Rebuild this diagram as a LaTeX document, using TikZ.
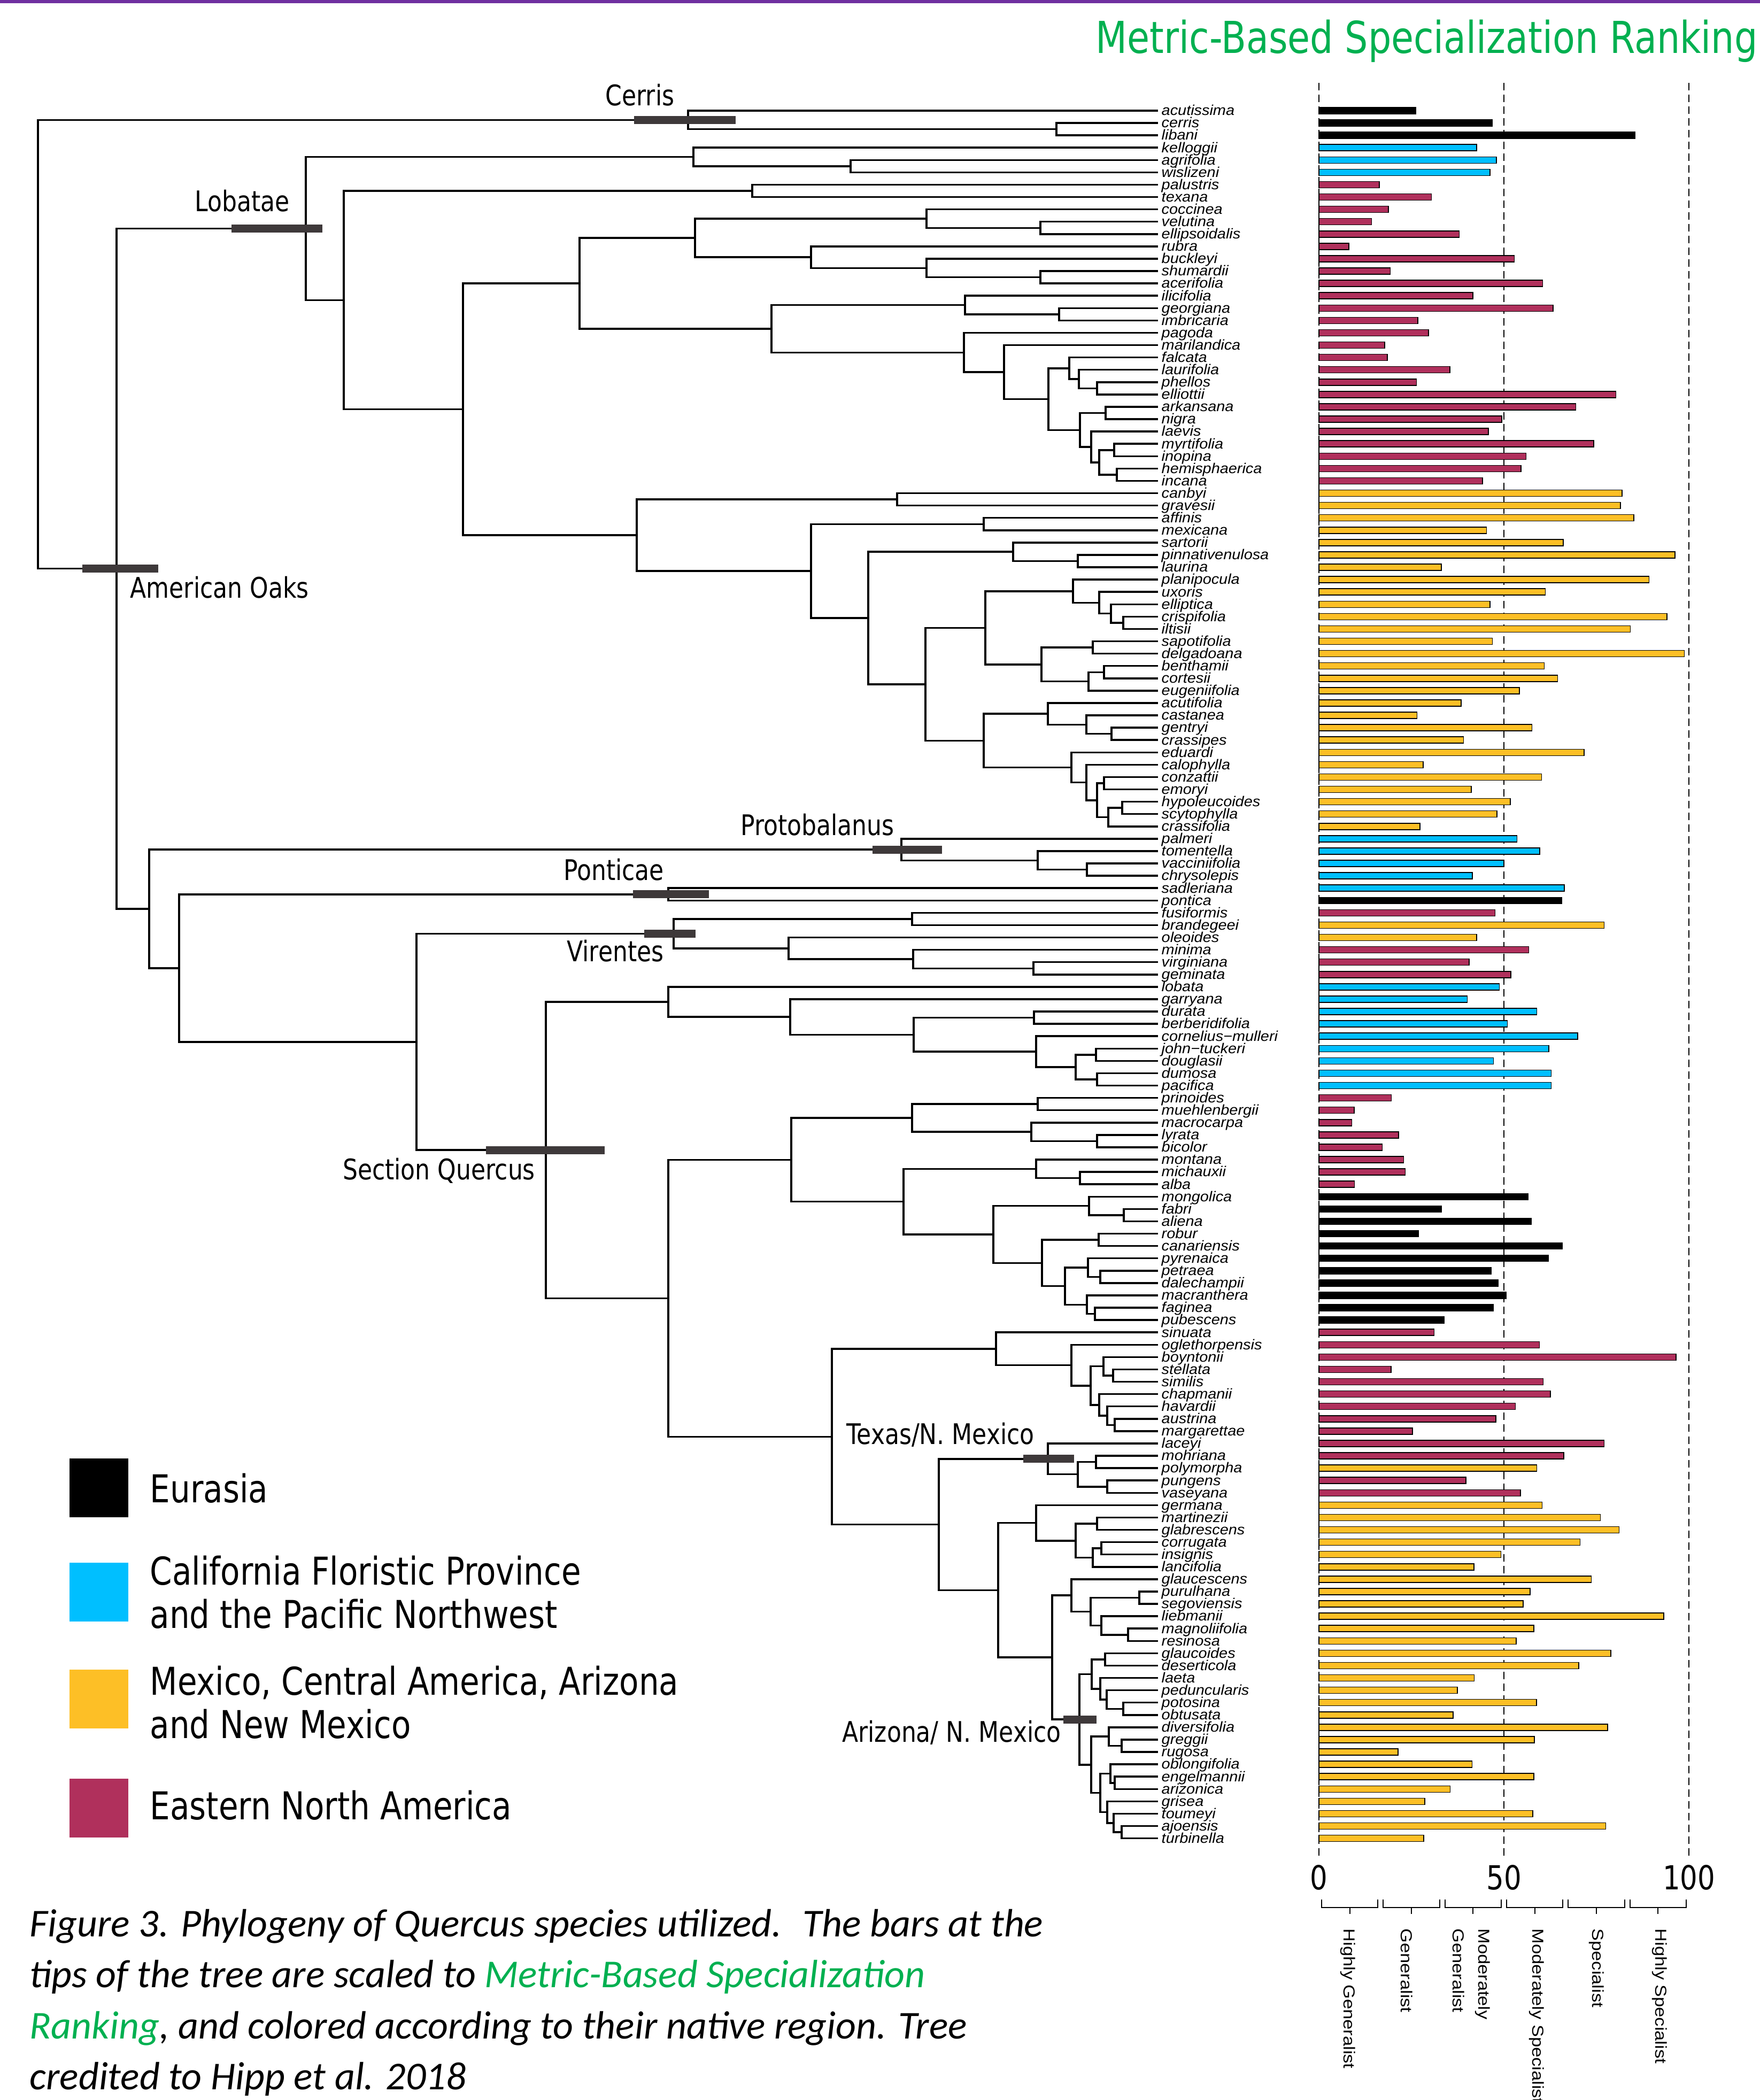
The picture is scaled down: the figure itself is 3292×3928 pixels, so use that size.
\documentclass[tikz,border=0pt]{standalone}
\usepackage{fontspec}
\usetikzlibrary{calc,positioning}
\newfontfamily\cladefont{DejaVu Sans}[FakeStretch=0.83]
\newfontfamily\tipfont{Liberation Sans}[FakeStretch=1.08]
\newfontfamily\classfont{Liberation Sans}[FakeStretch=1.15]
\newfontfamily\figcapfont{Carlito}
\definecolor{regEu}{HTML}{000000}
\definecolor{regCa}{HTML}{00BFFF}
\definecolor{regMx}{HTML}{FDBF26}
\definecolor{regEn}{HTML}{B0305C}
\definecolor{titleGreen}{HTML}{00B050}
\definecolor{topPurple}{HTML}{7030A0}
\definecolor{cladeGray}{HTML}{3E393A}
\tikzset{
  branch/.style={line width=0.035cm, line join=miter},
  cladebar/.style={rectangle, fill=cladeGray, minimum height=0.15cm, inner sep=0pt},
  cladelabel/.style={inner sep=0pt, text height=0.73em, text depth=0pt, font=\cladefont\fontsize{15.1}{18}\selectfont},
  tipname/.style={anchor=west, inner sep=0pt, text height=0.75em, text depth=0.25em, font=\tipfont\itshape\fontsize{7.6}{8}\selectfont},
  specbar/.style={draw=black, line width=0.015cm},
  axisline/.style={draw=black, line width=0.02cm, dash pattern=on 0.14cm off 0.08cm},
  ticklabel/.style={inner sep=0pt, font=\cladefont\fontsize{17.6}{20}\selectfont},
  titletext/.style={anchor=base west, inner sep=0pt, text=titleGreen, font=\cladefont\fontsize{23.4}{26}\selectfont},
  classlabel/.style={rotate=-90, anchor=west, inner sep=0pt, text height=0.72em, text depth=0.2em, font=\classfont\fontsize{8.5}{10}\selectfont},
  scaletick/.style={draw=black, line width=0.02cm},
  keybox/.style={rectangle, minimum width=1.1cm, minimum height=1.1cm, inner sep=0pt},
  keytext/.style={anchor=base west, inner sep=0pt, font=\cladefont\fontsize{20.4}{23}\selectfont},
  captext/.style={anchor=base west, inner sep=0pt, font=\figcapfont\itshape\fontsize{21}{27}\selectfont},
}
% join two children into a clade node at a given x
\newcommand{\joinclade}[4]{%
  \coordinate (#1m) at ($(#3)!0.5!(#4)$);
  \coordinate (#1) at (#2,0 |- #1m);
  \draw[branch] (#3) -| (#1) |- (#4);
}

\begin{document}
\begin{tikzpicture}[x=0.01cm,y=-0.01cm]
  \useasboundingbox (0,0) rectangle (3292,3928);

  % top rule and title
  \fill[topPurple] (0,0) rectangle (3292,6);
  \node[titletext] (title) at (2049,100) {Metric-Based Specialization Ranking};

  % score axis
  \foreach \v in {0,50,100}{
    \draw[axisline] ({2467+\v*6.92},155) -- ({2467+\v*6.92},3474);
    \node[ticklabel] (tick\v) at ({2467+\v*6.92},3512) {\v};
  }

  % tips, names and bars
  \foreach \nm/\val/\reg [count=\i] in {
    acutissima/26.2/Eu, cerris/46.9/Eu, libani/85.4/Eu,
    kelloggii/42.6/Ca, agrifolia/48.0/Ca, wislizeni/46.2/Ca,
    palustris/16.3/En, texana/30.4/En, coccinea/18.8/En, velutina/14.2/En, ellipsoidalis/37.9/En,
    rubra/8.1/En, buckleyi/52.8/En, shumardii/19.3/En, acerifolia/60.5/En, ilicifolia/41.6/En,
    georgiana/63.3/En, imbricaria/26.7/En, pagoda/29.6/En, marilandica/17.8/En, falcata/18.5/En,
    laurifolia/35.4/En, phellos/26.4/En, elliottii/80.3/En, arkansana/69.4/En, nigra/49.4/En,
    laevis/45.8/En, myrtifolia/74.3/En, inopina/56.0/En, hemisphaerica/54.6/En, incana/44.2/En,
    canbyi/81.9/Mx, gravesii/81.5/Mx, affinis/85.1/Mx, mexicana/45.3/Mx, sartorii/66.0/Mx,
    pinnativenulosa/96.2/Mx, laurina/33.1/Mx, planipocula/89.2/Mx, uxoris/61.2/Mx, elliptica/46.2/Mx,
    crispifolia/94.1/Mx, iltisii/84.2/Mx, sapotifolia/46.9/Mx, delgadoana/98.8/Mx, benthamii/60.9/Mx,
    cortesii/64.5/Mx, eugeniifolia/54.2/Mx, acutifolia/38.4/Mx, castanea/26.5/Mx, gentryi/57.6/Mx,
    crassipes/39.1/Mx, eduardi/71.7/Mx, calophylla/28.2/Mx, conzattii/60.2/Mx, emoryi/41.2/Mx,
    hypoleucoides/51.7/Mx, scytophylla/48.1/Mx, crassifolia/27.3/Mx,
    palmeri/53.5/Ca, tomentella/59.7/Ca, vacciniifolia/49.9/Ca, chrysolepis/41.5/Ca, sadleriana/66.3/Ca,
    pontica/65.6/Eu,
    fusiformis/47.6/En, brandegeei/77.1/Mx, oleoides/42.6/Mx, minima/56.7/En, virginiana/40.6/En, geminata/51.9/En,
    lobata/48.8/Ca, garryana/40.1/Ca, durata/58.9/Ca, berberidifolia/50.9/Ca, cornelius−mulleri/69.9/Ca,
    john−tuckeri/62.1/Ca, douglasii/47.2/Ca, dumosa/62.8/Ca, pacifica/62.8/Ca,
    prinoides/19.6/En, muehlenbergii/9.5/En, macrocarpa/8.9/En, lyrata/21.5/En, bicolor/17.1/En,
    montana/22.9/En, michauxii/23.3/En, alba/9.6/En,
    mongolica/56.5/Eu, fabri/33.1/Eu, aliena/57.4/Eu, robur/26.9/Eu, canariensis/65.8/Eu, pyrenaica/62.0/Eu,
    petraea/46.6/Eu, dalechampii/48.4/Eu, macranthera/50.6/Eu, faginea/47.1/Eu, pubescens/33.8/Eu,
    sinuata/31.1/En, oglethorpensis/59.6/En, boyntonii/96.5/En, stellata/19.5/En, similis/60.6/En,
    chapmanii/62.6/En, havardii/53.1/En, austrina/47.8/En, margarettae/25.3/En, laceyi/77.1/En, mohriana/66.2/En,
    polymorpha/58.9/Mx, pungens/39.7/En, vaseyana/54.5/En,
    germana/60.3/Mx, martinezii/76.1/Mx, glabrescens/81.1/Mx, corrugata/70.6/Mx, insignis/49.2/Mx,
    lancifolia/41.9/Mx, glaucescens/73.6/Mx, purulhana/57.1/Mx, segoviensis/55.2/Mx, liebmanii/93.2/Mx,
    magnoliifolia/58.1/Mx, resinosa/53.3/Mx, glaucoides/78.9/Mx, deserticola/70.2/Mx, laeta/42.0/Mx,
    peduncularis/37.4/Mx, potosina/58.8/Mx, obtusata/36.3/Mx, diversifolia/78.0/Mx, greggii/58.2/Mx,
    rugosa/21.4/Mx, oblongifolia/41.4/Mx, engelmannii/58.1/Mx, arizonica/35.5/Mx, grisea/28.6/Mx,
    toumeyi/57.8/Mx, ajoensis/77.5/Mx, turbinella/28.3/Mx}{
    \coordinate (t\i) at (2166,{207+(\i-1)*23.083});
    \node[tipname] (n\i) at (2172,{207+(\i-1)*23.083}) {\nm};
    \draw[specbar, fill=reg\reg] (2467,{201+(\i-1)*23.083}) rectangle ++(\val*6.92,12);
  }

  % Cerris
  \joinclade{cerA}{1976}{t2}{t3}
  \joinclade{cerris}{1287}{t1}{cerA}
  % Lobatae
  \joinclade{lob1}{1591}{t5}{t6}
  \joinclade{lob2}{1297}{t4}{lob1}
  \joinclade{lob3}{1407}{t7}{t8}
  \joinclade{lob4}{1946}{t10}{t11}
  \joinclade{lob5}{1733}{t9}{lob4}
  \joinclade{lob6}{1946}{t14}{t15}
  \joinclade{lob7}{1733}{t13}{lob6}
  \joinclade{lob8}{1517}{t12}{lob7}
  \joinclade{lob9}{1300}{lob5}{lob8}
  \joinclade{lob10}{1981}{t17}{t18}
  \joinclade{lob11}{1805}{t16}{lob10}
  \joinclade{lob12}{2052}{t23}{t24}
  \joinclade{lob13}{2018}{t22}{lob12}
  \joinclade{lob14}{2000}{t21}{lob13}
  \joinclade{lob15}{2068}{t25}{t26}
  \joinclade{lob16}{2084}{t28}{t29}
  \joinclade{lob17}{2089}{t30}{t31}
  \joinclade{lob18}{2056}{lob16}{lob17}
  \joinclade{lob19}{2041}{t27}{lob18}
  \joinclade{lob20}{2020}{lob15}{lob19}
  \joinclade{lob21}{1961}{lob14}{lob20}
  \joinclade{lob22}{1878}{t20}{lob21}
  \joinclade{lob23}{1803}{t19}{lob22}
  \joinclade{lob24}{1443}{lob11}{lob23}
  \joinclade{lob25}{1084}{lob9}{lob24}
  % Mexican red oaks
  \joinclade{mx1}{1678}{t32}{t33}
  \joinclade{mx2}{1840}{t34}{t35}
  \joinclade{mx3}{2016}{t37}{t38}
  \joinclade{mx4}{1895}{t36}{mx3}
  \joinclade{mx5}{2101}{t42}{t43}
  \joinclade{mx6}{2078}{t41}{mx5}
  \joinclade{mx7}{2056}{t40}{mx6}
  \joinclade{mx8}{2007}{t39}{mx7}
  \joinclade{mx9}{2044}{t44}{t45}
  \joinclade{mx10}{2065}{t46}{t47}
  \joinclade{mx11}{2036}{mx10}{t48}
  \joinclade{mx12}{1948}{mx9}{mx11}
  \joinclade{mx13}{1843}{mx8}{mx12}
  \joinclade{mx14}{2079}{t51}{t52}
  \joinclade{mx15}{2032}{t50}{mx14}
  \joinclade{mx16}{1960}{t49}{mx15}
  \joinclade{mx17}{2065}{t55}{t56}
  \joinclade{mx18}{2099}{t57}{t58}
  \joinclade{mx19}{2073}{mx18}{t59}
  \joinclade{mx20}{2052}{mx17}{mx19}
  \joinclade{mx21}{2032}{t54}{mx20}
  \joinclade{mx22}{2004}{t53}{mx21}
  \joinclade{mx23}{1840}{mx16}{mx22}
  \joinclade{mx24}{1731}{mx13}{mx23}
  \joinclade{mx25}{1624}{mx4}{mx24}
  \joinclade{mx26}{1517}{mx2}{mx25}
  \joinclade{mx27}{1191}{mx1}{mx26}
  \joinclade{red1}{866}{lob25}{mx27}
  \joinclade{red2}{643}{lob3}{red1}
  \joinclade{lobatae}{572}{lob2}{red2}
  % Protobalanus
  \joinclade{pro1}{2033}{t62}{t63}
  \joinclade{pro2}{1941}{t61}{pro1}
  \joinclade{protobalanus}{1686}{t60}{pro2}
  % Ponticae
  \joinclade{ponticae}{1250}{t64}{t65}
  % Virentes
  \joinclade{vir1}{1706}{t66}{t67}
  \joinclade{vir2}{1933}{t70}{t71}
  \joinclade{vir3}{1708}{t69}{vir2}
  \joinclade{vir4}{1475}{t68}{vir3}
  \joinclade{virentes}{1260}{vir1}{vir4}
  % Section Quercus
  \joinclade{q1}{1934}{t74}{t75}
  \joinclade{q2}{2050}{t77}{t78}
  \joinclade{q3}{2052}{t79}{t80}
  \joinclade{q4}{2012}{q2}{q3}
  \joinclade{q5}{1938}{t76}{q4}
  \joinclade{q6}{1709}{q1}{q5}
  \joinclade{q7}{1478}{t73}{q6}
  \joinclade{q8}{1250}{t72}{q7}
  \joinclade{q9}{1941}{t81}{t82}
  \joinclade{q10}{2052}{t84}{t85}
  \joinclade{q11}{1929}{t83}{q10}
  \joinclade{q12}{1706}{q9}{q11}
  \joinclade{q13}{2020}{t87}{t88}
  \joinclade{q14}{1938}{t86}{q13}
  \joinclade{q15}{2102}{t90}{t91}
  \joinclade{q16}{2037}{t89}{q15}
  \joinclade{q17}{2055}{t92}{t93}
  \joinclade{q18}{2058}{t95}{t96}
  \joinclade{q19}{2035}{t94}{q18}
  \joinclade{q20}{2048}{t98}{t99}
  \joinclade{q21}{2033}{t97}{q20}
  \joinclade{q22}{1992}{q19}{q21}
  \joinclade{q23}{1949}{q17}{q22}
  \joinclade{q24}{1858}{q16}{q23}
  \joinclade{q25}{1690}{q14}{q24}
  \joinclade{q26}{1480}{q12}{q25}
  \joinclade{w1}{2082}{t103}{t104}
  \joinclade{w2}{2064}{t102}{w1}
  \joinclade{w3}{2085}{t107}{t108}
  \joinclade{w4}{2071}{t106}{w3}
  \joinclade{w5}{2056}{t105}{w4}
  \joinclade{w6}{2040}{w2}{w5}
  \joinclade{w7}{2004}{t101}{w6}
  \joinclade{w8}{1863}{t100}{w7}
  % Texas/N. Mexico
  \joinclade{tx1}{2050}{t110}{t111}
  \joinclade{tx2}{2071}{t112}{t113}
  \joinclade{tx3}{2016}{tx1}{tx2}
  \joinclade{texas}{1960}{t109}{tx3}
  % Mexico
  \joinclade{m1}{2052}{t115}{t116}
  \joinclade{m2}{2060}{t117}{t118}
  \joinclade{m3}{2044}{m2}{t119}
  \joinclade{m4}{2012}{m1}{m3}
  \joinclade{m5}{1938}{t114}{m4}
  \joinclade{m6}{2131}{t121}{t122}
  \joinclade{m7}{2110}{t124}{t125}
  \joinclade{m8}{2060}{t123}{m7}
  \joinclade{m9}{2040}{m6}{m8}
  \joinclade{m10}{2004}{t120}{m9}
  % Arizona/N. Mexico
  \joinclade{az1}{2067}{t126}{t127}
  \joinclade{az2}{2101}{t130}{t131}
  \joinclade{az3}{2070}{t129}{az2}
  \joinclade{az4}{2058}{t128}{az3}
  \joinclade{az5}{2042}{az1}{az4}
  \joinclade{az6}{2098}{t133}{t134}
  \joinclade{az7}{2074}{t132}{az6}
  \joinclade{az8}{2085}{t136}{t137}
  \joinclade{az9}{2077}{t135}{az8}
  \joinclade{az10}{2098}{t140}{t141}
  \joinclade{az11}{2083}{t139}{az10}
  \joinclade{az12}{2071}{t138}{az11}
  \joinclade{az13}{2058}{az9}{az12}
  \joinclade{az14}{2041}{az7}{az13}
  \joinclade{arizona}{2019}{az5}{az14}
  \joinclade{m11}{1968}{m10}{arizona}
  \joinclade{m12}{1867}{m5}{m11}
  \joinclade{w9}{1756}{texas}{m12}
  \joinclade{w10}{1556}{w8}{w9}
  \joinclade{q27}{1250}{q26}{w10}
  \joinclade{quercus}{1021}{q8}{q27}
  % backbone
  \joinclade{sq1}{779}{virentes}{quercus}
  \joinclade{sq2}{335}{ponticae}{sq1}
  \joinclade{sq3}{279}{protobalanus}{sq2}
  \joinclade{american}{218}{lobatae}{sq3}
  \joinclade{root}{71}{cerris}{american}

  % clade bars
  \node[cladebar, minimum width=1.90cm] (cerrisBar) at ($(cerris)+(-6,0)$) {};
  \node[cladebar, minimum width=1.70cm] (lobataeBar) at ($(lobatae)+(-54,0)$) {};
  \node[cladebar, minimum width=1.42cm] (americanBar) at ($(american)+(7,0)$) {};
  \node[cladebar, minimum width=1.30cm] (protoBar) at ($(protobalanus)+(11,0)$) {};
  \node[cladebar, minimum width=1.41cm] (ponticaeBar) at ($(ponticae)+(5,0)$) {};
  \node[cladebar, minimum width=0.95cm] (virentesBar) at ($(virentes)+(-7,0)$) {};
  \node[cladebar, minimum width=2.21cm] (quercusBar) at ($(quercus)+(-1,0)$) {};
  \node[cladebar, minimum width=0.95cm] (texasBar) at ($(texas)+(1,0)$) {};
  \node[cladebar, minimum width=0.62cm] (arizonaBar) at ($(arizona)+(1,0)$) {};

  % clade labels
  \node[cladelabel] (cerrisLbl) at (1197,185) {Cerris};
  \node[cladelabel] (lobataeLbl) at (453,383) {Lobatae};
  \node[cladelabel, anchor=west] (americanLbl) at (243,1106) {American Oaks};
  \node[cladelabel] (protoLbl) at (1529,1550) {Protobalanus};
  \node[cladelabel] (ponticaeLbl) at (1148,1634) {Ponticae};
  \node[cladelabel] (virentesLbl) at (1151,1786) {Virentes};
  \node[cladelabel] (quercusLbl) at (821,2194) {Section Quercus};
  \node[cladelabel] (texasLbl) at (1759,2689) {Texas/N. Mexico};
  \node[cladelabel] (arizonaLbl) at (1780,3246) {Arizona/ N. Mexico};

  % legend
  \node[keybox, fill=regEu] (keyEu) at (185,2783) {};
  \node[keybox, fill=regCa] (keyCa) at (185,2978) {};
  \node[keybox, fill=regMx] (keyMx) at (185,3178) {};
  \node[keybox, fill=regEn] (keyEn) at (185,3382) {};
  \node[keytext] (txtEu) at (280,2810) {Eurasia};
  \node[keytext] (txtCa) at (280,2964) {California Floristic Province};
  \node[keytext] (txtCaB) at (280,3045) {and the Pacific Northwest};
  \node[keytext] (txtMx) at (280,3170) {Mexico, Central America, Arizona};
  \node[keytext] (txtMxB) at (280,3251) {and New Mexico};
  \node[keytext] (txtEn) at (280,3403) {Eastern North America};

  % rank classes under the axis
  \foreach \k in {0,...,5}{
    \draw[scaletick] ({2467+\k*115.33+5},3553) -- ({2467+\k*115.33+5},3568)
      -- ({2467+(\k+1)*115.33-5},3568) -- ({2467+(\k+1)*115.33-5},3553);
    \draw[scaletick] ({2467+(\k+0.5)*115.33},3568) -- ({2467+(\k+0.5)*115.33},3580);
  }
  \node[classlabel] (cls1) at (2523,3607) {Highly Generalist};
  \node[classlabel] (cls2) at (2630,3607) {Generalist};
  \node[classlabel] (cls3) at (2775,3607) {Moderately};
  \node[classlabel] (cls3b) at (2727,3607) {Generalist};
  \node[classlabel] (cls4) at (2876,3607) {Moderately Specialist};
  \node[classlabel] (cls5) at (2988,3607) {Specialist};
  \node[classlabel] (cls6) at (3106,3607) {Highly Specialist};

  % caption
  \node[captext] (cap1) at (55,3622) {Figure 3. Phylogeny of Quercus species utilized.~ The bars at the};
  \node[captext] (cap2) at (55,3717) {tips of the tree are scaled to \textcolor{titleGreen}{Metric-Based Specialization}};
  \node[captext] (cap3) at (55,3813) {\textcolor{titleGreen}{Ranking}, and colored according to their native region. Tree};
  \node[captext] (cap4) at (55,3908) {credited to Hipp et al. 2018};
\end{tikzpicture}
\end{document}
